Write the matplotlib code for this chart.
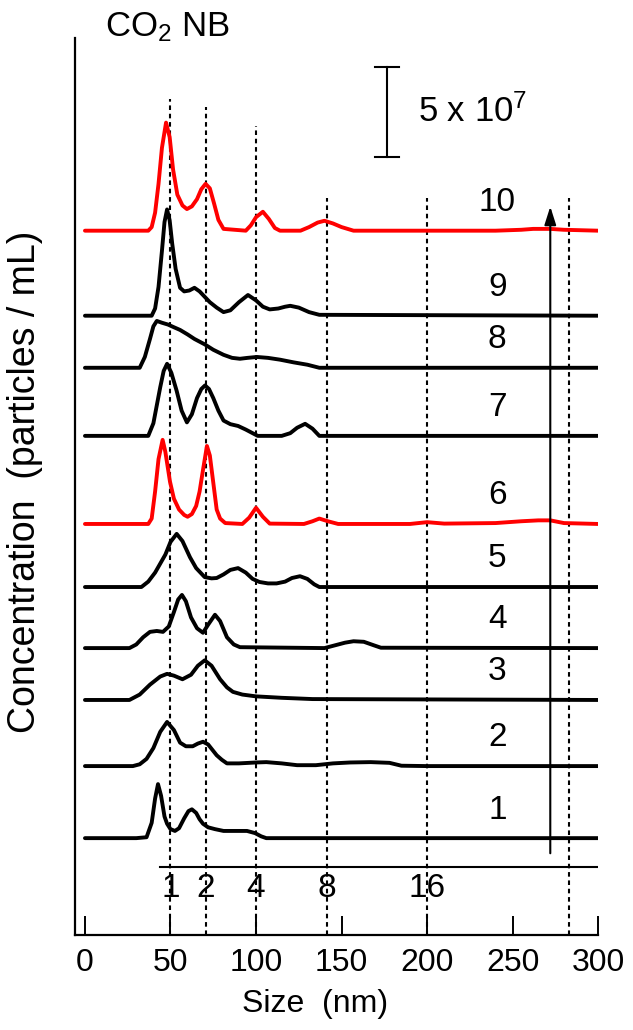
#!/usr/bin/env python3

"""
Stacked size distributions of CO2 nanobubbles (10 runs) with volume-ratio guides.
"""

import matplotlib
matplotlib.use("Agg")
import matplotlib.pyplot as plt

# ---------------------------------- DATA -------------------------------------
# Heights above each trace's baseline, in units of 1e7 particles / mL.
size_1 = [0, 30, 36, 39, 41, 42.7, 44.5, 46.5, 48, 50, 52.6, 55, 58, 60.5, 62.5,
          65, 67, 69, 72, 76, 81, 88, 94.7, 99.4, 103, 106, 300]
conc_1 = [0, 0, 0.05, 0.85, 2.2, 3.0, 2.35, 1.2, 0.8, 0.5, 0.4, 0.55, 1.1, 1.5,
          1.6, 1.4, 1.05, 0.8, 0.6, 0.5, 0.4, 0.4, 0.4, 0.28, 0.1, 0, 0]

size_2 = [0, 28, 32, 36, 40, 44, 48, 52, 55.6, 59, 63, 66, 69, 72, 77, 80, 83,
          90, 100, 106, 115, 124, 135, 145, 155, 167, 178, 185, 200, 300]
conc_2 = [0, 0, 0.1, 0.4, 1.0, 1.9, 2.45, 2.0, 1.3, 1.1, 1.1, 1.25, 1.35, 1.2,
          0.6, 0.35, 0.15, 0.15, 0.2, 0.22, 0.15, 0.05, 0.05, 0.15, 0.2, 0.22,
          0.18, 0.02, 0, 0]

size_3 = [0, 26, 32, 38, 44, 48, 52, 57, 62, 66, 70, 74, 79, 83, 86.5, 92, 100,
          115, 133, 300]
conc_3 = [0, 0, 0.3, 0.85, 1.3, 1.45, 1.35, 1.15, 1.4, 1.9, 2.2, 1.9, 1.15, 0.7,
          0.45, 0.3, 0.2, 0.12, 0.05, 0]

size_4 = [0, 26, 30, 34, 38, 42, 45.6, 49, 52, 54.5, 56.7, 59, 62, 65.5, 69, 72,
          76, 79, 83, 87, 90.6, 140, 146, 152, 157, 163, 169, 173, 300]
conc_4 = [0, 0, 0.2, 0.6, 0.9, 0.95, 0.9, 1.2, 2.0, 2.7, 2.95, 2.6, 1.7, 1.1,
          0.85, 1.3, 1.85, 1.5, 0.6, 0.2, 0.05, 0, 0.15, 0.3, 0.38, 0.35, 0.15,
          0.02, 0]

size_5 = [0, 33, 37, 41, 44, 47, 50, 53.6, 57, 61.4, 65, 70, 74, 77, 81, 85,
          89.5, 94, 98, 102, 107, 112, 117, 121, 125.7, 130, 134, 137, 300]
conc_5 = [0, 0, 0.3, 0.8, 1.3, 1.8, 2.5, 2.95, 2.55, 1.65, 1.05, 0.55, 0.48, 0.5,
          0.7, 0.95, 1.05, 0.8, 0.45, 0.28, 0.2, 0.2, 0.3, 0.5, 0.6, 0.45, 0.15,
          0, 0]

size_6 = [0, 37, 39, 41, 43, 45.4, 47, 49.7, 52, 55, 58, 60, 62.5, 65, 67, 69,
          71.3, 73, 75, 77, 79, 82, 92, 96, 100, 104, 108, 128, 133, 137, 142,
          148, 190, 200, 210, 240, 255, 265, 272, 280, 300]
conc_6 = [0, 0, 0.3, 1.8, 3.6, 4.67, 4.0, 2.35, 1.4, 0.8, 0.5, 0.4, 0.55, 1.0,
          1.8, 3.0, 4.33, 3.8, 2.3, 0.8, 0.3, 0.05, 0, 0.35, 0.9, 0.4, 0.02, 0,
          0.15, 0.3, 0.15, 0, 0, 0.1, 0.02, 0.05, 0.15, 0.2, 0.2, 0.05, 0]

size_7 = [0, 37, 40, 44, 46, 48, 50.5, 53.6, 56.5, 59.6, 62.5, 65.5, 68, 70.2,
          72.5, 75, 78, 81, 85, 89.5, 94, 98, 101, 115, 120, 124, 128.7, 133,
          137, 300]
conc_7 = [0, 0, 0.7, 2.7, 3.6, 4.0, 3.5, 2.5, 1.4, 0.75, 1.2, 2.1, 2.6, 2.8, 2.6,
          2.1, 1.4, 0.85, 0.65, 0.55, 0.35, 0.15, 0, 0, 0.15, 0.45, 0.67, 0.4,
          0, 0]

size_8 = [0, 32, 35, 38, 40, 42, 45, 48.5, 52, 55.6, 60, 64, 70, 75, 81, 86,
          90.6, 95, 100.5, 107, 114, 122, 130, 137, 300]
conc_8 = [0, 0, 0.6, 1.6, 2.3, 2.6, 2.5, 2.4, 2.25, 2.1, 1.85, 1.6, 1.3, 1.0,
          0.72, 0.55, 0.5, 0.55, 0.6, 0.55, 0.45, 0.3, 0.17, 0, 0]

size_9 = [0, 39, 41, 43, 45, 46.5, 48, 49.5, 51, 53, 55.6, 58, 61, 64, 67, 70,
          73, 77, 81, 85, 90, 95.3, 100, 104, 108, 113, 117, 120, 125, 131, 137,
          300]
conc_9 = [0, 0, 0.4, 1.6, 3.6, 5.2, 5.9, 5.3, 4.0, 2.6, 1.55, 1.35, 1.4, 1.55,
          1.35, 1.05, 0.75, 0.45, 0.2, 0.3, 0.75, 1.15, 0.85, 0.5, 0.35, 0.4,
          0.5, 0.55, 0.45, 0.2, 0.05, 0]

size_10 = [0, 37, 39, 41, 43, 45, 47.4, 49.5, 51.5, 54, 57, 59.6, 62.5, 65.5, 68,
           70.5, 73, 75.5, 78, 81, 94, 97, 100, 104, 107.5, 111, 114, 126, 131,
           136, 140, 145, 150, 157, 240, 255, 262, 272, 280, 300]
conc_10 = [0, 0, 0.2, 1.0, 2.6, 4.6, 6.0, 5.2, 3.4, 2.0, 1.4, 1.2, 1.35, 1.75,
           2.3, 2.6, 2.35, 1.5, 0.6, 0.1, 0, 0.3, 0.75, 1.05, 0.65, 0.15, 0, 0,
           0.2, 0.45, 0.55, 0.4, 0.2, 0, 0, 0.05, 0.1, 0.1, 0.05, 0]

run_labels = ["1", "2", "3", "4", "5", "6", "7", "8", "9", "10"]
run_offsets = [5.39, 9.39, 13.06, 15.94, 19.33, 22.83, 27.72, 31.5, 34.39, 39.11]
run_colors = ["k", "k", "k", "k", "k", "r", "k", "k", "k", "r"]

# Diameters of bubbles holding 1, 2, 4, 8, 16 and 32 times the volume of a 50 nm one
guide_sizes = [50, 70.7, 100, 141.4, 200, 282.8]
guide_tops = [46.4, 46.0, 44.9, 40.9, 40.9, 40.9]
guide_labels = ["1", "2", "4", "8", "16", ""]

x_ticks = [0, 50, 100, 150, 200, 250, 300]
scale_bar = 5  # 5 x 10^7 particles / mL
# ---------------------------------- DATA -------------------------------------

plt.rcParams["font.family"] = ["Liberation Sans", "DejaVu Sans"]
plt.rcParams["mathtext.fontset"] = "custom"
plt.rcParams["mathtext.rm"] = "Liberation Sans"
plt.rcParams["mathtext.default"] = "regular"

fig = plt.figure(figsize=(6.33, 10.30), dpi=100)
ax = fig.add_axes([0.118, 0.092, 0.827, 0.871])

sizes = [size_1, size_2, size_3, size_4, size_5,
         size_6, size_7, size_8, size_9, size_10]
concs = [conc_1, conc_2, conc_3, conc_4, conc_5,
         conc_6, conc_7, conc_8, conc_9, conc_10]

for s, c, off, col, lab in zip(sizes, concs, run_offsets, run_colors, run_labels):
    ax.plot(s, [off + v for v in c], color=col, lw=2.8, solid_joinstyle="round",
            solid_capstyle="round", zorder=3)
    ax.text(241, off + 0.7, lab, fontsize=24, ha="center", va="bottom")

# volume-ratio guides
for gx, top in zip(guide_sizes, guide_tops):
    ax.plot([gx, gx], [0, top], color="k", lw=1.5, linestyle=(0, (2.2, 1.8)),
            zorder=2)
ax.plot([44, 300], [3.78, 3.78], color="k", lw=1.5)
for gx, lab in zip(guide_sizes, guide_labels):
    ax.text(gx, 2.6, lab, fontsize=24, ha="center", va="center")

# run-order arrow
ax.annotate("", xy=(272, 40.45), xytext=(272, 4.55),
            arrowprops=dict(arrowstyle="-|>,head_length=1.1,head_width=0.35",
                            color="k", lw=1.5, shrinkA=0, shrinkB=0))

# concentration scale bar
bar_x, bar_lo = 176.6, 43.2
ax.plot([bar_x, bar_x], [bar_lo, bar_lo + scale_bar], color="k", lw=1.5)
for yy in (bar_lo, bar_lo + scale_bar):
    ax.plot([bar_x - 7, bar_x + 7], [yy, yy], color="k", lw=1.5)
ax.text(bar_x + 18, bar_lo + scale_bar / 2, r"5 x 10$^{7}$", fontsize=25,
        ha="left", va="center")

ax.text(11.5, 50.4, r"CO$_{2}$ NB", fontsize=25, ha="left", va="center",
        clip_on=False)

ax.set_xlim(-6, 300)
ax.set_ylim(0, 49.8)
ax.set_xticks(x_ticks)
ax.set_yticks([])
ax.tick_params(axis="x", direction="in", length=14, width=1.4, labelsize=23,
               pad=9)
for side in ("top", "right"):
    ax.spines[side].set_visible(False)
for side in ("left", "bottom"):
    ax.spines[side].set_linewidth(1.6)

ax.set_xlabel("Size  (nm)", fontsize=23)
ax.xaxis.set_label_coords(0.46, -0.06)
ax.set_ylabel("Concentration  (particles / mL)", fontsize=27)
ax.yaxis.set_label_coords(-0.06, 0.505)

fig.savefig("out.png", dpi=100)
